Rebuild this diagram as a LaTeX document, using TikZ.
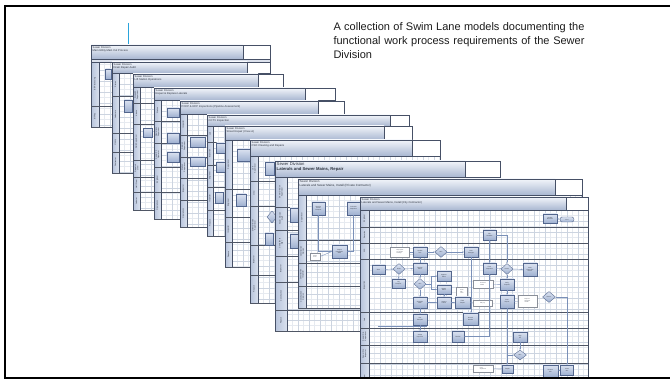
\documentclass[tikz,border=0pt]{standalone}
\usepackage{fontspec}
\setmainfont{Liberation Sans}
\usetikzlibrary{shapes.geometric,arrows.meta}

\definecolor{sheetedge}{HTML}{465066}
\definecolor{sheetshadow}{HTML}{A7ACB6}
\definecolor{hdtop}{HTML}{F2F5FA}
\definecolor{hdbot}{HTML}{A9B7D1}
\definecolor{coltop}{HTML}{B7C4DC}
\definecolor{colbot}{HTML}{DAE1EE}
\definecolor{minorc}{HTML}{E6EAF0}
\definecolor{majorc}{HTML}{CCD4E0}
\definecolor{lanec}{HTML}{4F5665}
\definecolor{proctop}{HTML}{DCE3F1}
\definecolor{procbot}{HTML}{9EB0D0}
\definecolor{procedge}{HTML}{52658C}
\definecolor{noteedge}{HTML}{8A8F99}
\definecolor{flowc}{HTML}{7A90B8}
\definecolor{boxtext}{HTML}{2E3440}
\definecolor{cyanline}{HTML}{2AA4DC}
\definecolor{captext}{HTML}{1C1C1C}

\tikzset{
  minorgrid/.style={draw=minorc, line width=.25},
  majorgrid/.style={draw=majorc, line width=.35},
  lanesep/.style={draw=lanec, line width=.6},
  lanelab/.style={rotate=90, inner sep=0, align=center, text=boxtext,
    font=\fontsize{1.9}{2.2}\selectfont},
  hdtext/.style={inner sep=0, align=left, text=boxtext,
    font=\fontsize{2.7}{3.3}\selectfont},
  proc/.style={draw=procedge, line width=.35, top color=proctop,
    bottom color=procbot, inner sep=.3pt, align=center, text=boxtext,
    font=\fontsize{1.5}{1.8}\selectfont},
  dec/.style={proc, diamond, inner sep=0pt},
  term/.style={proc, rounded corners=2.4pt},
  note/.style={draw=noteedge, line width=.25, fill=white, inner sep=.4pt,
    align=left, text=boxtext, font=\fontsize{1.25}{1.5}\selectfont},
  flow/.style={draw=flowc, line width=.45, -{Stealth[length=1.5pt,width=1.3pt]}},
  link/.style={draw=flowc, line width=.4},
  caption/.style={anchor=base west, inner sep=0, text=captext,
    font=\fontsize{11}{13}\selectfont},
}

% One swim-lane sheet: #1 x0, #2 y0, #3 x1, #4 y1, #5 header bottom,
% #6 left edge of the header's side box, #7 right edge of the lane-label column,
% #8 sheet id, #9 header text
\newcommand\swimsheet[9]{%
  \fill[sheetshadow] (#1+1.3,#2+1.3) rectangle (#3+1.3,#4+1.3);
  \fill[white] (#1,#2) rectangle (#3,#4);
  \begin{scope}
    \clip (#7,#5) rectangle (#3,#4);
    \draw[minorgrid] \foreach \g in {0,5.5,...,330} {(#7+\g,#5) -- (#7+\g,#4) (#7,#5+\g) -- (#3,#5+\g)};
    \draw[majorgrid] \foreach \g in {0,11,...,330} {(#7+\g,#5) -- (#7+\g,#4) (#7,#5+\g) -- (#3,#5+\g)};
  \end{scope}
  \shade[left color=coltop, right color=colbot] (#1,#5) rectangle (#7,#4);
  \draw[draw=sheetedge, line width=.5] (#7,#5) -- (#7,#4);
  \shade[top color=hdtop, bottom color=hdbot, draw=sheetedge, line width=.6] (#1,#2) rectangle (#6,#5);
  \filldraw[fill=white, draw=sheetedge, line width=.6] (#6,#2) rectangle (#3,#5);
  \node[hdtext, anchor=north west] (#8-hd) at (#1+1.5,#2+1.2) {#9};
  \draw[draw=sheetedge, line width=.8] (#1,#2) rectangle (#3,#4);
}

% Lanes of a sheet: #1 sheet id, #2 x0, #3 label-column right, #4 x1,
% #5 list of top/bottom/label
\newcommand\swimlanes[5]{%
  \foreach \ya/\yb/\lab [count=\k] in {#5}{%
    \draw[lanesep] (#2,\yb) -- (#4,\yb);
    \node[lanelab] (#1-lane\k) at ({(#2+#3)/2},{(\ya+\yb)/2}) {\lab};
  }%
}

\begin{document}
\begin{tikzpicture}[x=1pt,y=-1pt]
\clip (0,0) rectangle (670,379);
\fill[white] (0,0) rectangle (670,379);

% caption
\node[caption] (cap1) at (333.3,31) {\makebox[251pt][s]{A collection of Swim Lane models documenting the}};
\node[caption] (cap2) at (333.3,44.7) {\makebox[251pt][s]{functional work process requirements of the Sewer}};
\node[caption] (cap3) at (333.3,58.4) {Division};

% pointer line
\coordinate (ptrtop) at (128,23);
\coordinate (ptrbot) at (128,45);
\draw[cyanline, line width=1] (ptrtop) -- (ptrbot);

% ---------------- sheet 1
\swimsheet{91}{45}{270}{127}{59}{243}{99}{s1}{Sewer Division\\Main Utility Main Cut Process}
\filldraw[fill=hdbot!40, draw=sheetedge, line width=.4] (91,59) rectangle (270,62);
\swimlanes{s1}{91}{99}{270}{62/106/Bill Processing,106/127/Bill Pay}
\node[proc, minimum width=6pt, minimum height=10pt] (s1w1) at (108.5,74) {};

% ---------------- sheet 2
\swimsheet{112}{62}{270}{173}{73}{247}{119}{s2}{Sewer Division\\Drain Repair Audit}
\swimlanes{s2}{112}{119}{270}{73/96/Stores,96/133/Laborers,133/152/Heavy,152/173/Contractor}
\node[proc, minimum width=8pt, minimum height=12pt] (s2v1) at (128,106) {};

% ---------------- sheet 3
\swimsheet{133}{74}{283}{210}{87}{258}{140}{s3}{Sewer Division\\Lift Station Operations}
\swimlanes{s3}{133}{140}{283}{87/103/{Dispatch\\Supervisor},103/124/Admin,124/160/Field Supervisor,160/177/{Dispatch\\Crew},177/192/Hell Crew,192/210/Laborer}
\node[proc, minimum width=9pt, minimum height=9pt] (s3u1) at (148,133) {};

% ---------------- sheet 4
\swimsheet{154}{88}{335}{219}{100}{305}{161}{s4}{Sewer Division\\Repair \& Replace Laterals}
\swimlanes{s4}{154}{161}{335}{100/121/Station,121/143/{Operations\\Supervisor},143/167/{Sewer Pit\\Operator},167/192/Engineer,192/219/Operations}
\node[proc, minimum width=12pt, minimum height=9pt] (s4t1) at (173,112.5) {};
\node[proc, minimum width=12pt, minimum height=10pt] (s4t2) at (173,138) {};
\node[proc, minimum width=12pt, minimum height=10pt] (s4t3) at (173,157) {};

% ---------------- sheet 5
\swimsheet{180}{101}{344}{227}{114}{318}{187}{s5}{Sewer Division\\PCCP \& RCP Inspections (Pipeline Assessment)}
\swimlanes{s5}{180}{187}{344}{114/135/Inspector,135/157/{Division\\Supervisor},157/178/{Station\\Supervisor},178/200/Inspector,200/227/Operations}
\node[proc, minimum width=15pt, minimum height=10pt] (s5r1) at (197.5,142) {};
\node[proc, minimum width=15pt, minimum height=9pt] (s5r2) at (197.5,161.5) {};

% ---------------- sheet 6
\swimsheet{207}{115}{409}{236}{126}{390}{213}{s6}{Sewer Division\\CCTV Inspection}
\swimlanes{s6}{207}{213}{409}{126/142/Lab,142/165/Inspection,165/187/Engineer,187/210/Inspector,210/236/Finance}
\node[proc, minimum width=9pt, minimum height=10pt] (s6q1) at (221,148) {};
\node[proc, minimum width=9pt, minimum height=10pt] (s6q2) at (221,167) {};
\node[proc, minimum width=8pt, minimum height=11pt] (s6q3) at (219,198) {};

% ---------------- sheet 7
\swimsheet{225}{126}{412}{267}{140}{384}{232}{s7}{Sewer Division\\Street Repair (Crew A)}
\swimlanes{s7}{225}{232}{412}{140/189/Supervisor,189/217/Engineer,217/242/Inspector,242/267/Finance}
\node[proc, minimum width=14pt, minimum height=12pt] (s7p1) at (244,155) {};
\node[proc, minimum width=10pt, minimum height=12pt] (s7p2) at (241,200) {};

% ---------------- sheet 8
\swimsheet{250}{140}{440}{303}{156}{412}{258}{s8}{Sewer Division\\CSO Cleaning and Repairs}
\swimlanes{s8}{250}{258}{440}{156/181/{Lab\\Supervisor},181/206/Crew,206/245/{Street Division\\Supervisor},245/275/Inspector,275/303/Finance}
\node[proc, minimum width=9pt, minimum height=13pt] (s8m0) at (270,169) {};
\node[dec, minimum width=10pt, minimum height=12pt] (s8m1) at (272,217) {};
\node[proc, minimum width=8pt, minimum height=12pt] (s8m2) at (269,239) {};

% ---------------- sheet 9
\begin{scope}[hdtext/.append style={font=\fontsize{4.2}{5.2}\selectfont}]
\swimsheet{275}{161}{500}{331}{177}{465}{287}{s9}{Sewer Division\\\textbf{Laterals and Sewer Mains, Repair}}
\end{scope}
\swimlanes{s9}{275}{287}{500}{177/207/{Sewer Division\\Supervisor},207/230/{Sewer Division\\Staff},230/256/{Compliance\\Mgr},256/282/Inspector,282/310/Construction,310/331/Finance}
\node[proc, minimum width=9pt, minimum height=14pt] (s9n1) at (294.5,215) {};
\node[proc, minimum width=9pt, minimum height=14pt] (s9n2) at (294.5,241) {};

% ---------------- sheet 10
\begin{scope}[hdtext/.append style={font=\fontsize{3}{3.7}\selectfont}]
\swimsheet{298}{179}{582}{308}{195}{555}{306}{s10}{Sewer Division\\Laterals and Sewer Mains, Install (Private Contractor)}
\end{scope}
\swimlanes{s10}{298}{306}{582}{195/240/Supervisor,240/263/{Construction\\Division},263/286/{Construction\\Inspector},286/308/{Construction\\Division}}
\node[proc, minimum width=13pt, minimum height=13pt] (s10k1) at (318.5,208.5) {Receive\\Permit\\Request};
\node[proc, minimum width=13pt, minimum height=13pt] (s10k2) at (353.5,208.5) {Schedule\\Inspection};
\node[proc, minimum width=15pt, minimum height=13pt] (s10k3) at (339.5,251.5) {Inspect\\Installation\\Work};
\node[note, minimum width=10pt, minimum height=7pt] (s10k4) at (315,256.5) {Permit\\on file};
\draw[flow] (s10k1.south) |- (s10k3.west);
\draw[flow] (s10k2.south) |- (s10k3.east);
\draw[link] (s10k4.east) -- (s10k3.west);

% ---------------- sheet 11
\swimsheet{360}{197}{588}{392}{210}{566}{369}{s11}{Sewer Division\\Laterals and Sewer Mains, Install (City Contractor)}
\swimlanes{s11}{360}{369}{588}{210/227/Engineer,227/243/Records,243/259/GIS,259/312/Inspection,312/328/Lab,328/345/{Sewer Div.\\Supervisor},345/363/{Sewer Div.\\Inspector},363/392/Crew}

\node[proc, minimum width=14pt, minimum height=9pt] (a1) at (550,218.5) {Update\\Records};
\node[term, minimum width=14pt, minimum height=5pt] (a2) at (567,219.5) {End};
\node[proc, minimum width=13pt, minimum height=10pt] (b1) at (489.5,235) {File\\As-Builts};
\node[note, minimum width=19pt, minimum height=10pt] (c0) at (400,252) {Map update\\per as-built\\drawings};
\node[proc, minimum width=14pt, minimum height=10pt] (c1) at (420,252) {Update\\GIS};
\node[dec, minimum width=12pt, minimum height=11pt] (c2) at (441,252) {OK?};
\node[proc, minimum width=14pt, minimum height=10pt] (c3) at (471,252) {Post\\Changes};
\node[proc, minimum width=13pt, minimum height=9pt] (d1) at (378.5,269.5) {Start};
\node[dec, minimum width=12pt, minimum height=11pt] (d2) at (399,269) {New?};
\node[proc, minimum width=14pt, minimum height=11pt] (d3) at (420,268.5) {Review\\Plans};
\node[proc, minimum width=13pt, minimum height=11pt] (d4) at (489.5,268.5) {Final\\Inspection};
\node[dec, minimum width=12pt, minimum height=11pt] (d5) at (507,269) {Pass?};
\node[proc, minimum width=14pt, minimum height=13pt] (d6) at (530,269.5) {Issue\\Correction\\Notice};
\node[proc, minimum width=13pt, minimum height=9pt] (e1) at (398.5,283.5) {Log\\Request};
\node[dec, minimum width=12pt, minimum height=11pt] (e2) at (420,284) {OK?};
\node[proc, minimum width=14pt, minimum height=10pt] (e3) at (444,276) {Approve\\Plans};
\node[proc, minimum width=14pt, minimum height=9pt] (e4) at (444,289.5) {Return\\Plans};
\node[note, minimum width=11pt, minimum height=10pt] (e5) at (462,292) {Plans\\with\\notes};
\node[note, minimum width=20pt, minimum height=8pt] (e6) at (483,284) {Contractor\\notified};
\node[proc, minimum width=14pt, minimum height=11pt] (e7) at (507,284.5) {Verify\\Repairs};
\node[proc, minimum width=14pt, minimum height=11pt] (f1) at (420,302.5) {Schedule\\Work};
\node[proc, minimum width=14pt, minimum height=11pt] (f2) at (444,302.5) {Inspect\\Trench};
\node[proc, minimum width=15pt, minimum height=11pt] (f3) at (462.5,302.5) {Field\\Report};
\node[note, minimum width=19pt, minimum height=6pt] (f4) at (482.5,303) {Daily log};
\node[proc, minimum width=14pt, minimum height=13pt] (f5) at (507,301.5) {Final\\Report};
\node[note, minimum width=19pt, minimum height=12pt] (f6) at (527.5,301) {Report to\\supervisor\\and file};
\node[dec, minimum width=13pt, minimum height=11pt] (f7) at (549,297) {Done?};
\node[proc, minimum width=14pt, minimum height=11pt] (g1) at (420,319.5) {Test\\Samples};
\node[proc, minimum width=15pt, minimum height=12pt] (g2) at (470.5,319) {Record\\Results};
\node[proc, minimum width=14pt, minimum height=11pt] (h1) at (420,336.5) {Assign\\Inspector};
\node[proc, minimum width=12pt, minimum height=11pt] (h2) at (458,336.5) {Review};
\node[proc, minimum width=14pt, minimum height=10pt] (h3) at (520,337) {Sign\\Off};
\node[dec, minimum width=13pt, minimum height=10pt] (i1) at (520,355) {OK?};
\node[note, minimum width=20pt, minimum height=7pt] (j1) at (483,368.5) {Crew\\dispatched};
\node[proc, minimum width=11pt, minimum height=8pt] (j2) at (507.5,369) {Repair};
\node[proc, minimum width=15pt, minimum height=12pt] (j3) at (550.5,371) {Restore\\Site};
\node[proc, minimum width=13pt, minimum height=10pt] (j4) at (567,370) {Close\\Out};

\draw[flow] (a1) -- (a2);
\draw[flow] (b1.east) -| (d5.north);
\draw[link] (c0) -- (c1);
\draw[flow] (c1) -- (c2);
\draw[flow] (c2) -- (c3);
\draw[flow] (c3.south) -- (c3.south |- g2.north);
\draw[flow] (d1) -- (d2);
\draw[flow] (d2) -- (d3);
\draw[flow] (d2) -- (e1);
\draw[flow] (d3) -- (c1);
\draw[flow] (d3) -- (e2);
\coordinate (e2j) at (431,284);
\draw[link] (e2.east) -- (e2j);
\draw[flow] (e2j) |- (e3.west);
\draw[flow] (e2j) |- (e4.west);
\draw[flow] (e2) -- (f1);
\draw[flow] (e4) -- (f2);
\draw[flow] (f1) -- (f2);
\draw[flow] (f2) -- (f3);
\draw[link] (f3) -- (f4);
\draw[flow] (f1) -- (g1);
\draw[flow] (g1) -- (h1);
\draw[flow] (d4) -- (d5);
\draw[flow] (d5) -- (d6);
\draw[flow] (d5) -- (e7);
\draw[link] (e6) -- (e7);
\draw[flow] (e7) -- (f5);
\draw[link] (f5) -- (f6);
\draw[flow] (f5.south) -- (f5.south |- j2.north);
\draw[flow] (h3) -- (i1);
\draw[link] (i1.west) -- (i1.west -| f5.south);
\draw[link] (j1) -- (j2);
\draw[flow] (b1.south) -- (b1.south |- d4.north);
\draw[flow] (d4.south) |- (h2.east);
\draw[flow] (f7.east) -| (j4.north);
\draw[flow] (j3) -- (j4);
\coordinate (l5a) at (378,326.5);
\draw[link] (l5a) -- (l5a -| g1.east);

% outer frame
\draw[line width=2.2] (4,6) -- (670,6);
\draw[line width=2.2] (5.2,5) -- (5.2,379);
\draw[line width=1.6] (4,378) -- (670,378);
\end{tikzpicture}
\end{document}
